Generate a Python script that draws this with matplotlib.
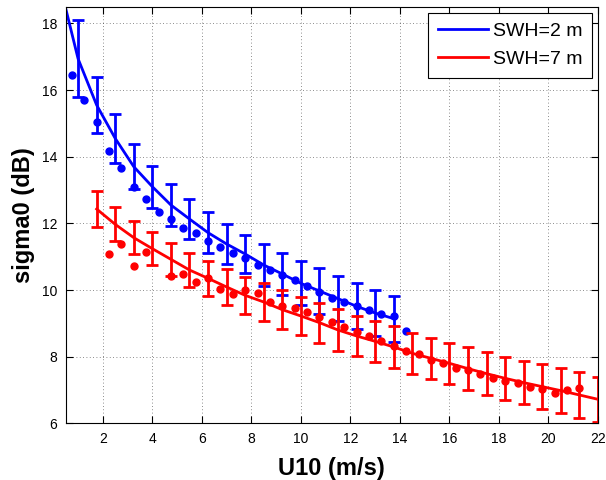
import numpy as np
import matplotlib
matplotlib.use('Agg')
import matplotlib.pyplot as plt

plt.rcParams['font.family'] = ['Liberation Sans', 'DejaVu Sans']

# SWH = 2 m : fitted curve / binned means with std / raw bin means
u_fit_2m = [0.5, 1, 1.75, 2.5, 3.25, 4, 4.75, 5.5, 6.25, 7, 7.75, 8.5, 9.25,
            10, 10.75, 11.5, 12.25, 13, 13.75]
sig_fit_2m = [18.45, 16.94, 15.55, 14.55, 13.7, 13.1, 12.55, 12.13, 11.72, 11.38,
              11.08, 10.75, 10.48, 10.2, 9.97, 9.74, 9.51, 9.31, 9.14]
u_bar_2m = u_fit_2m[1:]
sig_bar_2m = sig_fit_2m[1:]
err_2m = [1.15, 0.84, 0.73, 0.67, 0.63, 0.62, 0.61, 0.61, 0.59, 0.58, 0.63, 0.64,
          0.66, 0.68, 0.68, 0.69, 0.69, 0.69]
u_dot_2m = [0.75, 1.25, 1.75, 2.25, 2.75, 3.25, 3.75, 4.25, 4.75, 5.25, 5.75, 6.25,
            6.75, 7.25, 7.75, 8.25, 8.75, 9.25, 9.75, 10.25, 10.75, 11.25, 11.75,
            12.25, 12.75, 13.25, 13.75, 14.25]
sig_dot_2m = [16.44, 15.69, 15.04, 14.16, 13.66, 13.1, 12.72, 12.35, 12.12, 11.87,
              11.71, 11.48, 11.3, 11.11, 10.96, 10.75, 10.61, 10.46, 10.3, 10.12,
              9.95, 9.77, 9.65, 9.52, 9.41, 9.29, 9.22, 8.78]

# SWH = 7 m
u_bar_7m = [1.75, 2.5, 3.25, 4, 4.75, 5.5, 6.25, 7, 7.75, 8.5, 9.25, 10, 10.75,
            11.5, 12.25, 13, 13.75, 14.5, 15.25, 16, 16.75, 17.5, 18.25, 19,
            19.75, 20.5, 21.25, 22]
sig_bar_7m = [12.43, 11.97, 11.57, 11.24, 10.92, 10.6, 10.35, 10.09, 9.84, 9.64,
              9.41, 9.22, 9.02, 8.8, 8.62, 8.46, 8.29, 8.1, 7.95, 7.8, 7.64, 7.49,
              7.35, 7.22, 7.1, 6.98, 6.85, 6.72]
err_7m = [0.53, 0.51, 0.49, 0.49, 0.5, 0.52, 0.53, 0.54, 0.56, 0.56, 0.58, 0.585,
          0.6, 0.62, 0.61, 0.62, 0.62, 0.62, 0.62, 0.62, 0.64, 0.65, 0.65, 0.65,
          0.68, 0.67, 0.68, 0.68]
u_dot_7m = [2.25, 2.75, 3.25, 3.75, 4.25, 4.75, 5.25, 5.75, 6.25, 6.75, 7.25, 7.75,
            8.25, 8.75, 9.25, 9.75, 10.25, 10.75, 11.25, 11.75, 12.25, 12.75, 13.25,
            13.75, 14.25, 14.75, 15.25, 15.75, 16.25, 16.75, 17.25, 17.75, 18.25,
            18.75, 19.25, 19.75, 20.25, 20.75, 21.25]
sig_dot_7m = [11.08, 11.37, 10.71, 11.14, np.nan, 10.42, 10.49, 10.23, 10.35, 10.04,
              9.87, 10.0, 9.92, 9.64, 9.53, 9.47, 9.35, 9.2, 9.05, 8.9, 8.75, 8.62,
              8.48, 8.32, 8.17, 8.07, 7.9, 7.8, 7.65, 7.6, 7.48, 7.35, 7.28, 7.2,
              7.1, 7.02, 6.92, 7.0, 7.05]

fig = plt.figure(figsize=(6.06, 4.8), dpi=100)
ax = fig.add_axes([0.1084, 0.1181, 0.8784, 0.8679])

l1, = ax.plot(u_fit_2m, sig_fit_2m, color='b', lw=2, label='SWH=2 m')
ax.errorbar(u_bar_2m, sig_bar_2m, yerr=err_2m, fmt='none', ecolor='b',
            elinewidth=2, capsize=4.2, capthick=2)
ax.plot(u_dot_2m, sig_dot_2m, 'o', color='b', ms=5, mec='b')

l2, = ax.plot(u_bar_7m, sig_bar_7m, color='r', lw=2, label='SWH=7 m')
ax.errorbar(u_bar_7m, sig_bar_7m, yerr=err_7m, fmt='none', ecolor='r',
            elinewidth=2, capsize=4.2, capthick=2)
ax.plot(u_dot_7m, sig_dot_7m, 'o', color='r', ms=5, mec='r')

ax.set_xlim(0.5, 22)
ax.set_ylim(6, 18.5)
ax.set_xticks(np.arange(2, 23, 2))
ax.set_yticks(np.arange(6, 19, 2))
ax.tick_params(direction='in', length=5, width=0.8, top=True, right=True,
               labelsize=10, pad=6)
ax.grid(True, linestyle=(0, (1, 3)), color='k', lw=0.6, alpha=0.6)
for s in ax.spines.values():
    s.set_linewidth(0.8)

ax.set_xlabel('U10 (m/s)', fontsize=17, fontweight='bold', labelpad=8)
ax.set_ylabel('sigma0 (dB)', fontsize=17, fontweight='bold', labelpad=5)

leg = ax.legend(handles=[l1, l2], loc='upper right', fontsize=14,
                fancybox=False, framealpha=1, edgecolor='k',
                handlelength=2.6, handletextpad=0.25, borderpad=0.5,
                labelspacing=0.55, borderaxespad=0.3)
leg.get_frame().set_linewidth(0.8)

fig.savefig('out.png', dpi=100)
